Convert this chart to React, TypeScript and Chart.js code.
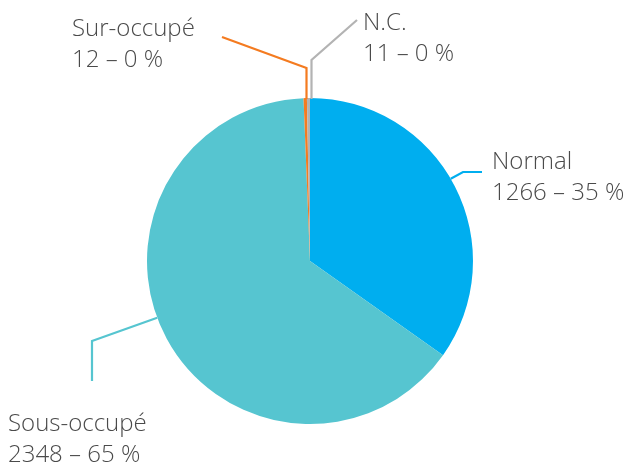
import React, { useEffect, useRef } from "react";
import { Chart, registerables } from "chart.js";

Chart.register(...registerables);

const categories = ["Normal", "Sous-occupé", "Sur-occupé", "N.C."];
const counts = [1266, 2348, 12, 11];
const percents = ["35 %", "65 %", "0 %", "0 %"];
const colors = ["#00AEEF", "#56C5D0", "#F47B20", "#B3B3B3"];

// leader-line layout, relative to the pie centre (px)
type Leader = { start: [number, number] | null; angle: number; pts: [number, number][]; text: [number, number] };
const leaders: Leader[] = [
  { start: null, angle: 59.7, pts: [[153, -89], [172, -89]], text: [182, -92] },
  { start: null, angle: 249.6, pts: [[-218, 80], [-218, 120]], text: [-302, 170] },
  { start: [-3.5, -163], angle: 0, pts: [[-3.5, -193], [-88, -224]], text: [-238, -225] },
  { start: [1.5, -163], angle: 0, pts: [[1.5, -201], [47, -241]], text: [53, -231] },
];

const labelPlugin = {
  id: "leaderLabels",
  afterDatasetsDraw(chart: any) {
    const ctx = chart.ctx;
    const meta = chart.getDatasetMeta(0);
    meta.data.forEach((arc: any, i: number) => {
      const cx = arc.x;
      const cy = arc.y;
      const r = arc.outerRadius;
      const L = leaders[i];
      let sx: number, sy: number;
      if (L.start) {
        sx = cx + L.start[0];
        sy = cy + L.start[1] + 1;
      } else {
        const a = (L.angle * Math.PI) / 180;
        sx = cx + r * Math.sin(a);
        sy = cy - r * Math.cos(a);
      }
      ctx.save();
      ctx.strokeStyle = colors[i];
      ctx.lineWidth = 2.2;
      ctx.beginPath();
      ctx.moveTo(sx, sy);
      L.pts.forEach((p) => ctx.lineTo(cx + p[0], cy + p[1]));
      ctx.stroke();
      ctx.fillStyle = "#4a4a4a";
      ctx.font = '300 24px "Open Sans"';
      ctx.textAlign = "left";
      ctx.textBaseline = "alphabetic";
      const tx = cx + L.text[0];
      const ty = cy + L.text[1];
      ctx.fillText(categories[i], tx, ty);
      ctx.fillText(`${counts[i]} – ${percents[i]}`, tx, ty + 31);
      ctx.restore();
    });
  },
};

export default function App() {
  const ref = useRef<HTMLCanvasElement>(null);
  useEffect(() => {
    document.body.style.margin = "0";
    const chart = new Chart(ref.current!, {
      type: "pie",
      data: {
        labels: categories,
        datasets: [
          {
            data: counts,
            backgroundColor: colors,
            borderWidth: 0,
          },
        ],
      },
      options: {
        animation: false,
        responsive: false,
        layout: { padding: { top: 98, bottom: 41, left: 147, right: 154 } },
        plugins: { legend: { display: false }, tooltip: { enabled: false } },
      },
      plugins: [labelPlugin],
    });
    return () => chart.destroy();
  }, []);
  return (
    <div style={{ width: 627, height: 465, background: "#fff" }}>
      <canvas ref={ref} width={627} height={465} style={{ width: 627, height: 465 }} />
    </div>
  );
}
